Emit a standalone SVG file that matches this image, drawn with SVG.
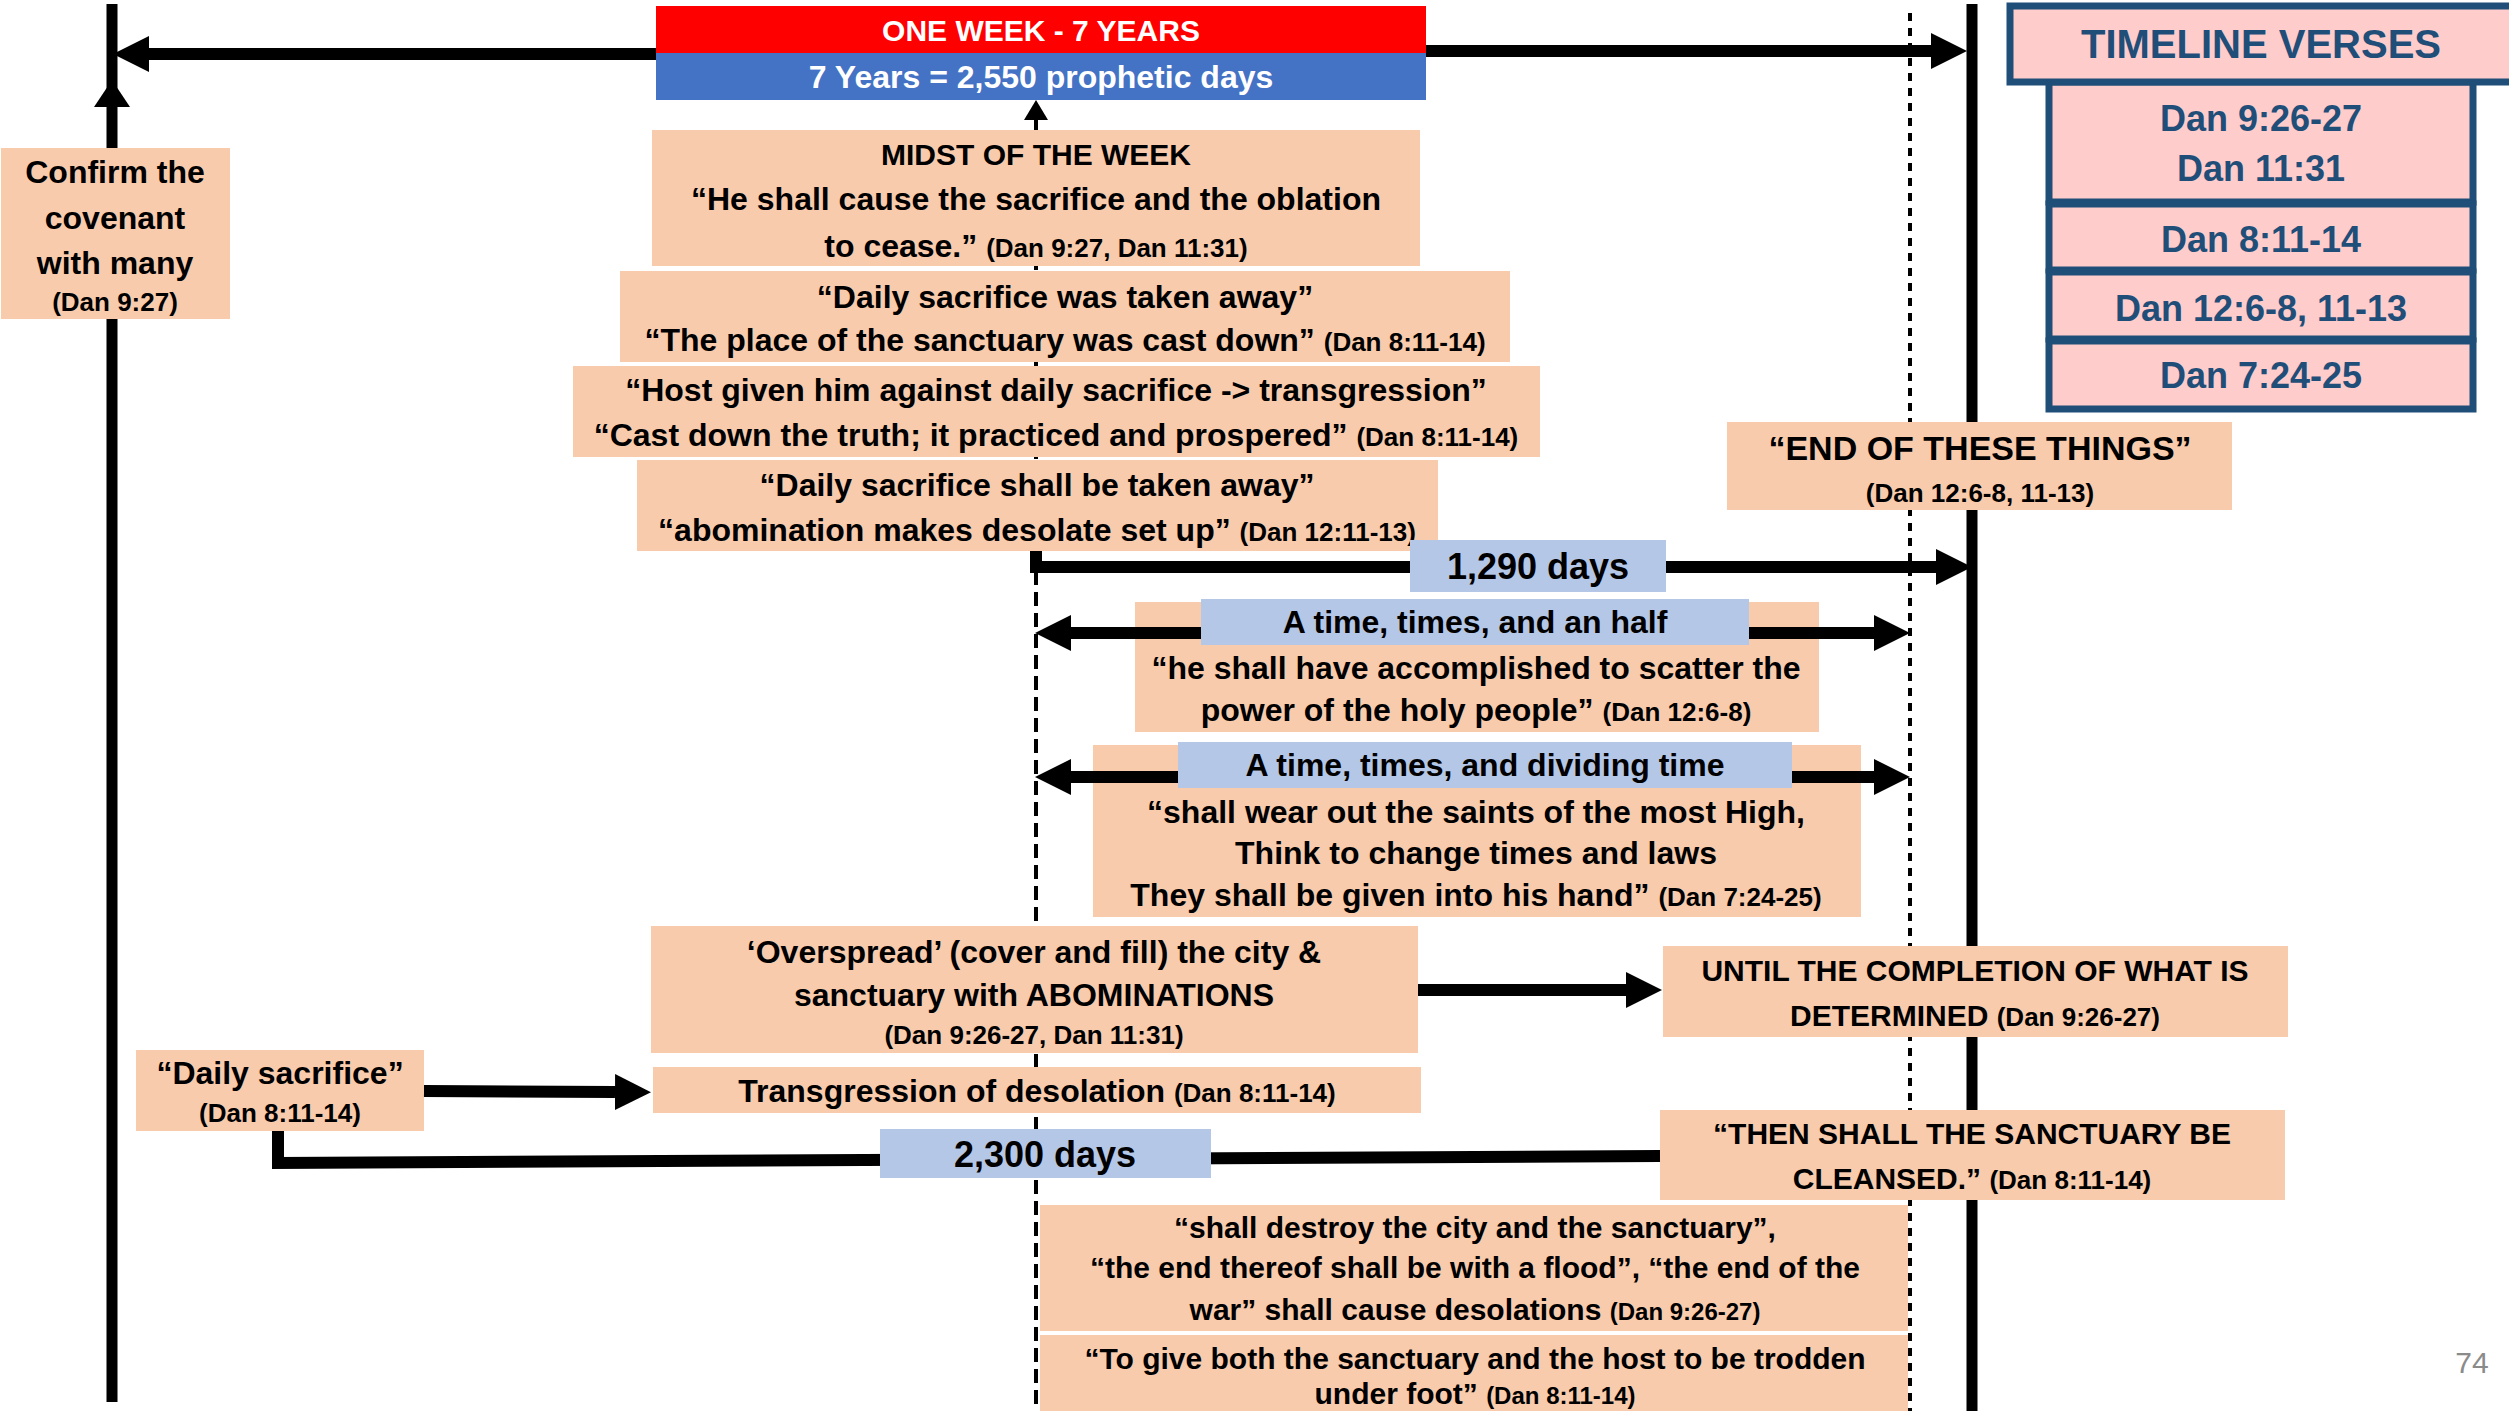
<svg xmlns="http://www.w3.org/2000/svg" width="2509" height="1411" viewBox="0 0 2509 1411">
<style>
.bg{fill:#fff}
.box{fill:#F8CBAD}
.lbl{fill:#B4C7E7}
.tl{fill:#FFCCCC;stroke:#1F4E79;stroke-width:7}
.t{font-family:"Liberation Sans",Arial,sans-serif;font-weight:bold;text-anchor:middle;fill:#000}
.w{fill:#fff}
.nv{fill:#1F4E79}
.s26{font-size:26px}.s28{font-size:28px}.s30{font-size:30px}.s32{font-size:32px}.s34{font-size:34px}.s36{font-size:36px}.s40{font-size:40px}
.r{font-size:26px}.r24{font-size:24px}
.axis{stroke:#000;stroke-width:11;fill:none}
.dash{stroke:#000;stroke-width:4;stroke-dasharray:14 7;fill:none}
.dot{stroke:#000;stroke-width:4;stroke-dasharray:8 7;fill:none}
.conn{stroke:#000;stroke-width:12;fill:none}
.thin{stroke:#000;stroke-width:4;fill:none}
.pg{font-family:"Liberation Sans",Arial,sans-serif;font-size:30px;fill:#8B8B8B;text-anchor:middle}
</style>
<defs>
<marker id="ah" markerUnits="userSpaceOnUse" viewBox="0 -18 36 36" refX="0" refY="0" markerWidth="36" markerHeight="36" orient="auto-start-reverse"><path d="M0,-18 L36,0 L0,18 z" fill="#000"/></marker>
<marker id="ahs" markerUnits="userSpaceOnUse" viewBox="0 -12 20 24" refX="0" refY="0" markerWidth="20" markerHeight="24" orient="auto"><path d="M0,-12 L20,0 L0,12 z" fill="#000"/></marker>
</defs>
<rect class="bg" x="0" y="0" width="2509" height="1411"/>

<g id="axes">
<line class="axis" x1="112" y1="4" x2="112" y2="1402"/>
<path d="M94,107 L112,80 L130,107 z" fill="#000"/>
<line class="axis" x1="1972" y1="4" x2="1972" y2="1411"/>
<line class="dash" x1="1036" y1="130" x2="1036" y2="1411"/>
<line class="dot" x1="1910" y1="13" x2="1910" y2="1411"/>
</g>

<g id="confirm">
<rect class="box" x="1" y="148" width="229" height="171"/>
<text class="t s32" x="115" y="183">Confirm the</text>
<text class="t s32" x="115" y="229">covenant</text>
<text class="t s32" x="115" y="274">with many</text>
<text class="t s26" x="115" y="311">(Dan 9:27)</text>
</g>

<g id="midst">
<rect class="box" x="652" y="130" width="768" height="136"/>
<text class="t s30" x="1036" y="165" font-size="31">MIDST OF THE WEEK</text>
<text class="t s32" x="1036" y="210">“He shall cause the sacrifice and the oblation</text>
<text class="t s32" x="1036" y="257">to cease.” <tspan class="r">(Dan 9:27, Dan 11:31)</tspan></text>
</g>

<g id="taken-away">
<rect class="box" x="620" y="271" width="890" height="91"/>
<text class="t s32" x="1065" y="308">“Daily sacrifice was taken away”</text>
<text class="t s32" x="1065" y="351">“The place of the sanctuary was cast down” <tspan class="r">(Dan 8:11-14)</tspan></text>
</g>

<g id="host">
<rect class="box" x="573" y="366" width="967" height="91"/>
<text class="t s32" x="1056" y="401">“Host given him against daily sacrifice -&gt; transgression”</text>
<text class="t s32" x="1056" y="446">“Cast down the truth; it practiced and prospered” <tspan class="r">(Dan 8:11-14)</tspan></text>
</g>

<g id="abomination">
<rect class="box" x="637" y="460" width="801" height="91"/>
<text class="t s32" x="1037" y="496">“Daily sacrifice shall be taken away”</text>
<text class="t s32" x="1037" y="541">“abomination makes desolate set up” <tspan class="r">(Dan 12:11-13)</tspan></text>
</g>

<g id="end-things">
<rect class="box" x="1727" y="422" width="505" height="88"/>
<text class="t s34" x="1980" y="460">“END OF THESE THINGS”</text>
<text class="t s26" x="1980" y="502">(Dan 12:6-8, 11-13)</text>
</g>

<g id="time-half">
<rect class="box" x="1135" y="602" width="684" height="130"/>
<text class="t s32" x="1476" y="679">“he shall have accomplished to scatter the</text>
<text class="t s32" x="1476" y="721">power of the holy people” <tspan class="r">(Dan 12:6-8)</tspan></text>
</g>

<g id="time-dividing">
<rect class="box" x="1093" y="745" width="768" height="172"/>
<text class="t s32" x="1476" y="823">“shall wear out the saints of the most High,</text>
<text class="t s32" x="1476" y="864">Think to change times and laws</text>
<text class="t s32" x="1476" y="906">They shall be given into his hand” <tspan class="r">(Dan 7:24-25)</tspan></text>
</g>

<g id="overspread">
<rect class="box" x="651" y="926" width="767" height="127"/>
<text class="t s32" x="1034" y="963">‘Overspread’ (cover and fill) the city &amp;</text>
<text class="t s32" x="1034" y="1006">sanctuary with ABOMINATIONS</text>
<text class="t s26" x="1034" y="1044">(Dan 9:26-27, Dan 11:31)</text>
</g>

<g id="until">
<rect class="box" x="1663" y="946" width="625" height="91"/>
<text class="t s30" x="1975" y="981">UNTIL THE COMPLETION OF WHAT IS</text>
<text class="t s30" x="1975" y="1026">DETERMINED <tspan class="r">(Dan 9:26-27)</tspan></text>
</g>

<g id="daily">
<rect class="box" x="136" y="1050" width="288" height="81"/>
<text class="t s32" x="280" y="1084">“Daily sacrifice”</text>
<text class="t s26" x="280" y="1122">(Dan 8:11-14)</text>
</g>

<g id="transgression">
<rect class="box" x="653" y="1067" width="768" height="46"/>
<text class="t s32" x="1037" y="1102">Transgression of desolation <tspan class="r">(Dan 8:11-14)</tspan></text>
</g>

<g id="cleansed">
<rect class="box" x="1660" y="1110" width="625" height="90"/>
<text class="t s30" x="1972" y="1144">“THEN SHALL THE SANCTUARY BE</text>
<text class="t s30" x="1972" y="1189">CLEANSED.” <tspan class="r">(Dan 8:11-14)</tspan></text>
</g>

<g id="destroy">
<rect class="box" x="1040" y="1205" width="868" height="126"/>
<text class="t s30" x="1475" y="1238">“shall destroy the city and the sanctuary”,</text>
<text class="t s30" x="1475" y="1278">“the end thereof shall be with a flood”, “the end of the</text>
<text class="t s30" x="1475" y="1320">war” shall cause desolations <tspan class="r24">(Dan 9:26-27)</tspan></text>
</g>

<g id="trodden">
<rect class="box" x="1040" y="1335" width="868" height="80"/>
<text class="t s30" x="1475" y="1369">“To give both the sanctuary and the host to be trodden</text>
<text class="t s30" x="1475" y="1404">under foot” <tspan class="r24">(Dan 8:11-14)</tspan></text>
</g>

<g id="connectors">
<line class="conn" x1="656" y1="54" x2="149" y2="54" marker-end="url(#ah)"/>
<line class="conn" x1="1426" y1="51" x2="1931" y2="51" marker-end="url(#ah)"/>
<line class="thin" x1="1036" y1="130" x2="1036" y2="120" marker-end="url(#ahs)"/>
<polyline class="conn" points="1036,551 1036,567 1936,567" stroke-width="13" marker-end="url(#ah)"/>
<line class="conn" x1="1071" y1="633" x2="1874" y2="633" marker-start="url(#ah)" marker-end="url(#ah)"/>
<line class="conn" x1="1071" y1="777" x2="1874" y2="777" marker-start="url(#ah)" marker-end="url(#ah)"/>
<line class="conn" x1="1418" y1="990" x2="1626" y2="990" marker-end="url(#ah)"/>
<line class="conn" x1="424" y1="1091" x2="615" y2="1092" marker-end="url(#ah)"/>
<polyline class="conn" points="278,1131 278,1163 1660,1156"/>
</g>

<g id="one-week">
<rect x="656" y="6" width="770" height="47" fill="#FF0000"/>
<rect x="656" y="53" width="770" height="47" fill="#4472C4"/>
<text class="t w s30" x="1041" y="41">ONE WEEK - 7 YEARS</text>
<text class="t w s32" x="1041" y="88">7 Years = 2,550 prophetic days</text>
</g>

<g id="days-1290">
<rect class="lbl" x="1410" y="540" width="256" height="52"/>
<text class="t s36" x="1538" y="579">1,290 days</text>
</g>

<g id="time-half-label">
<rect class="lbl" x="1201" y="599" width="548" height="46"/>
<text class="t s32" x="1475" y="633">A time, times, and an half</text>
</g>

<g id="time-dividing-label">
<rect class="lbl" x="1178" y="742" width="614" height="46"/>
<text class="t s32" x="1485" y="776">A time, times, and dividing time</text>
</g>

<g id="days-2300">
<rect class="lbl" x="880" y="1129" width="331" height="49"/>
<text class="t s36" x="1045" y="1167">2,300 days</text>
</g>

<g id="timeline-verses">
<rect class="tl" x="2049" y="82" width="424" height="120"/>
<rect class="tl" x="2049" y="204" width="424" height="66"/>
<rect class="tl" x="2049" y="272" width="424" height="67"/>
<rect class="tl" x="2049" y="341" width="424" height="68"/>
<rect class="tl" x="2010" y="6" width="510" height="76" stroke-width="8"/>
<text class="t nv s40" x="2261" y="58">TIMELINE VERSES</text>
<text class="t nv s36" x="2261" y="131">Dan 9:26-27</text>
<text class="t nv s36" x="2261" y="181">Dan 11:31</text>
<text class="t nv s36" x="2261" y="252">Dan 8:11-14</text>
<text class="t nv s36" x="2261" y="321">Dan 12:6-8, 11-13</text>
<text class="t nv s36" x="2261" y="388">Dan 7:24-25</text>
</g>

<text class="pg" x="2472" y="1373">74</text>
</svg>
